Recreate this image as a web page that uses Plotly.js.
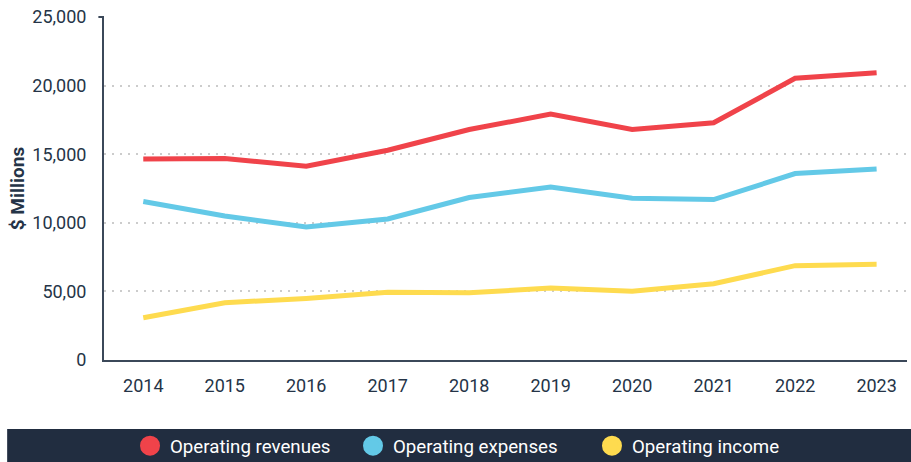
<!DOCTYPE html>
<html>
<head>
<meta charset="utf-8">
<script src="https://cdn.plot.ly/plotly-3.0.1.min.js"></script>
<style>
  html, body { margin: 0; padding: 0; background: #ffffff; }
  #chart { width: 911px; height: 462px; }
</style>
</head>
<body>
<div id="chart"></div>
<script>
const years = ['2014', '2015', '2016', '2017', '2018', '2019', '2020', '2021', '2022', '2023'];
const operatingRevenues = [14650, 14690, 14120, 15290, 16800, 17920, 16800, 17290, 20530, 20940];
const operatingExpenses = [11550, 10500, 9690, 10280, 11840, 12610, 11790, 11690, 13590, 13930];
const operatingIncome = [3080, 4175, 4490, 4930, 4900, 5240, 5020, 5560, 6875, 6970];
const yTickVals = [0, 5000, 10000, 15000, 20000, 25000];
const yTickText = ['0', '50,00', '10,000', '15,000', '20,000', '25,000'];

const seriesNames = ['Operating revenues', 'Operating expenses', 'Operating income'];
const seriesValues = [operatingRevenues, operatingExpenses, operatingIncome];
const seriesColors = ['#f0434a', '#63c9e7', '#fedb4f'];
const legendIds = ['legend', 'legend2', 'legend3'];
const legendX = [0.0324, 0.3101, 0.6077];

const traces = [];
seriesValues.forEach((vals, i) => {
  traces.push({
    type: 'scatter', mode: 'lines', x: years, y: vals, name: seriesNames[i],
    line: { color: seriesColors[i], width: 5 }, showlegend: false, hoverinfo: 'x+y+name'
  });
});
seriesNames.forEach((nm, i) => {
  traces.push({
    type: 'scatter', mode: 'markers', x: [null], y: [null], name: nm, legend: legendIds[i],
    marker: { color: seriesColors[i], size: 20, line: { color: seriesColors[i], width: 4 } },
    showlegend: true, hoverinfo: 'skip'
  });
});

const textColor = '#253447';
const legendBase = (x) => ({
  orientation: 'h', x: x, xanchor: 'left', y: -0.2507, yanchor: 'middle',
  bgcolor: 'rgba(0,0,0,0)', borderwidth: 0,
  font: { family: 'Roboto, sans-serif', size: 18.7, color: '#ffffff' },
  itemsizing: 'trace', itemclick: false, itemdoubleclick: false
});

const layout = {
  width: 911, height: 462,
  margin: { l: 104, r: 4, t: 17, b: 102, autoexpand: false },
  paper_bgcolor: '#ffffff', plot_bgcolor: '#ffffff',
  font: { family: 'Roboto, sans-serif', color: textColor, size: 18 },
  xaxis: {
    type: 'category', range: [-0.482, 9.373],
    showgrid: false, zeroline: false,
    showline: true, linecolor: '#3b4859', linewidth: 2,
    ticks: '', ticklabelstandoff: 8,
    tickfont: { family: 'Roboto, sans-serif', size: 18, color: textColor }
  },
  yaxis: {
    range: [0, 25000], tickvals: yTickVals, ticktext: yTickText,
    showgrid: true, gridcolor: '#cccccc', gridwidth: 1.5, griddash: '2px,6px',
    zeroline: false, showline: true, linecolor: '#3b4859', linewidth: 2,
    ticks: '', ticklabelstandoff: 12,
    tickfont: { family: 'Roboto, sans-serif', size: 18, color: textColor },
    title: { text: '$ Millions', font: { family: 'Roboto, sans-serif', size: 19, color: textColor, weight: 'bold' }, standoff: 3 }
  },
  showlegend: true,
  legend: legendBase(legendX[0]),
  legend2: legendBase(legendX[1]),
  legend3: legendBase(legendX[2]),
  shapes: [
    { type: 'rect', xref: 'paper', yref: 'paper', x0: -0.1206, x1: 1.01, y0: -0.201, y1: -0.32,
      fillcolor: '#212d40', line: { width: 0 }, layer: 'above' },
    { type: 'line', xref: 'paper', yref: 'paper', x0: -0.007, x1: 0, y0: 1, y1: 1,
      line: { color: '#3b4859', width: 2 } }
  ],
  hovermode: 'closest'
};

Plotly.newPlot('chart', traces, layout, { displayModeBar: false });
</script>
</body>
</html>
